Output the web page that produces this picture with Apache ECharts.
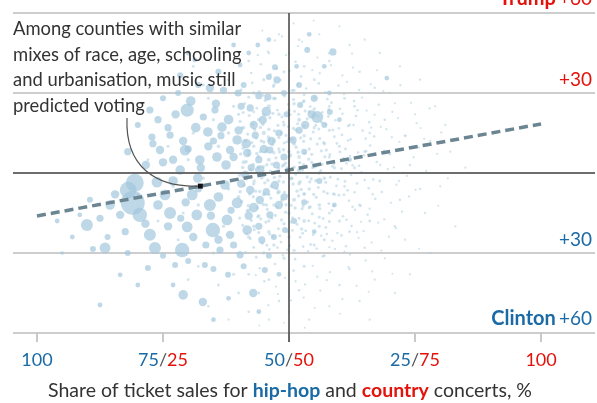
<!DOCTYPE html>
<html>
<head>
<meta charset="utf-8">
<script src="https://cdn.jsdelivr.net/npm/echarts@6/dist/echarts.min.js"></script>
<style>
  html, body { margin: 0; padding: 0; background: #ffffff; }
  #chart { width: 597px; height: 403px; }
</style>
</head>
<body>
<div id="chart"></div>
<script>
// x: country share of concert ticket sales (%), hip-hop share = 100 - x
// y: 2016 vote margin, positive = Trump, negative = Clinton (percentage points)
const xTicks = [0, 25, 50, 75, 100];
const xTickHipHop = ['100', '75', '50', '25', ''];
const xTickCountry = ['', '25', '50', '75', '100'];

const yTicks = [-60, -30, 0, 30, 60];
const yTickNames = ['Clinton', '', '', '', 'Trump'];
const yTickMargins = ['+60', '+30', '', '+30', '+60'];

// fitted relationship, margin at 0% and 100% country share
const trendX = [0, 100];
const trendY = [-16.1, 18.4];

// larger counties: [country share, margin, population index]
const largeCounties = [
  [19.0, -11.2, 400], [19.4, -3.7, 225], [18.1, -6.4, 196], [20.4, -15.7, 144],
  [9.9, -19.5, 100], [13.5, -28.1, 81], [11.1, -28.5, 25], [22.4, -23.2, 100],
  [23.4, -28.1, 100], [28.8, -28.9, 144], [26.4, -15.0, 100], [29.8, -20.2, 81],
  [31.7, -15.7, 81], [34.9, -21.4, 144], [37.7, -17.6, 81], [39.7, -11.2, 81],
  [41.7, -21.4, 64], [29.0, -45.7, 64], [32.9, -48.4, 49], [42.9, -45.0, 49],
  [23.8, -3.4, 81], [25.4, -8.2, 81], [29.8, 23.6, 121], [22.8, 13.5, 36],
  [29.4, 8.6, 81], [33.9, 15.4, 64], [36.7, 17.2, 64], [39.7, 12.4, 64],
  [41.7, 7.5, 49], [44.8, 19.9, 49], [45.8, 28.5, 36], [47.6, 34.9, 36],
  [32.3, 4.9, 64], [28.4, 1.1, 64], [35.7, 6.0, 64], [47.2, 39.7, 25],
  [39.9, 30.0, 36], [34.3, 31.9, 49], [26.4, 14.2, 36], [31.9, -1.9, 64],
  [37.3, -4.5, 64], [41.3, -0.7, 49], [44.2, -10.1, 49], [14.5, -12.0, 64],
  [16.5, -15.7, 49], [21.6, 3.0, 49], [24.4, 8.6, 49], [35.3, 23.6, 36],
  [42.3, 24.4, 36], [38.3, 8.6, 49], [43.3, 14.2, 36], [46.2, 8.6, 36],
  [36.3, -28.9, 36], [40.3, -30.7, 36], [37.9, -38.2, 25], [45.2, -36.4, 25],
  [33.3, -34.5, 25], [27.4, -34.5, 25], [58.7, 45.4, 36], [53.6, 46.1, 25],
  [69.4, 35.6, 16], [55.6, 21.0, 100], [53.2, 18.0, 49], [58.1, 22.9, 25],
  [50.8, 12.4, 36], [52.2, 25.5, 25], [44.2, 1.1, 64], [47.2, -4.5, 49],
  [42.3, -6.4, 49], [46.2, -15.7, 36], [49.2, -21.4, 25], [22.4, 23.6, 36],
  [28.4, 36.7, 25], [31.3, 42.4, 16], [40.3, 40.5, 16], [43.8, 48.0, 16],
  [34.3, -12.0, 100], [30.8, -8.2, 81], [38.3, -23.2, 49], [44.6, -25.1, 36],
  [22.0, -35.6, 25], [12.5, -49.5, 16], [16.5, -38.2, 16], [8.5, -15.7, 16],
  [27.5, 22, 49], [30.5, 27, 64], [33, 21, 36], [35.5, 26, 49], [38, 20, 64], [40.5, 25, 36],
  [43, 18, 49], [45.5, 23, 64], [48, 15, 36], [26, 17, 36], [29, 12, 49], [31.5, 17, 64],
  [34, 10, 49], [36.5, 14, 36], [39, 6, 49], [41.5, 11, 64], [44, 5, 36], [46.5, 12, 49],
  [49, 6, 36], [27, 5, 49], [30, 9, 36], [32.5, 2, 49], [35, 12, 36], [37.5, 3, 64],
  [40, 16, 49], [42.5, 2, 36], [45, 9, 49], [47.5, 3, 36], [49.5, 22, 25], [24, 20, 36],
  [25, 4, 49], [23, 11, 36], [28, 30, 25], [32, 33, 25], [37, 31, 36], [41, 33, 25],
  [44, 29, 36], [46, 36, 25], [49, 30, 25], [36, 38, 25], [42, 45, 16], [39, 48, 16],
  [46, 50, 16], [30, 45, 16], [25, 28, 25], [20, 18, 25], [18, 8, 36],
  [27, -3, 64], [29.5, -11, 49], [32, -6, 36], [34.5, -16, 49], [36, -9, 64], [38.5, -14, 36],
  [40.5, -4, 49], [43, -13, 64], [45.5, -7, 36], [48, -12, 49], [26, -20, 49], [28.5, -17, 36],
  [31, -24, 49], [33.5, -27, 36], [36, -25, 49], [39, -27, 36], [42, -16, 49], [44, -20, 36],
  [47, -24, 25], [49, -9, 36], [24, -12, 64], [21.5, -19, 49], [17.5, -22, 36], [15.5, -8, 49],
  [12.5, -17, 36], [10.5, -10, 25], [25, -31, 25], [30, -33, 25], [35, -36, 25], [41, -35, 25],
  [46, -31, 25], [48, -38, 16], [27, -42, 16], [38, -47, 16], [44, -52, 16], [35, -55, 16],
  [20, -42, 16], [18, -30, 25], [14, -24, 25], [7, -24, 16], [4, -18, 16], [5, -30, 9],
  [52, 16, 36], [54.5, 22, 49], [57, 18, 25], [55, 28, 36], [52, 33, 25], [58, 30, 16],
  [53, 8, 25], [56, -3, 25], [53, -11, 25], [51, -18, 25], [55, -22, 16], [60, 20, 16],
  [59, -12, 16], [62, 5, 16], [51.5, 40, 16], [57, 40, 16], [54, 52, 16]
];

// smaller counties: [country share, margin, population index]
const smallCounties = [
  [44, 2, 9], [46, 5, 12], [48, -3, 8], [50, 8, 10], [52, 1, 14], [54, -6, 9], [47, 12, 11], [49, 18, 8],
  [51, -10, 12], [53, 14, 9], [55, 3, 7], [57, -2, 10], [45, -8, 13], [43, 10, 9], [42, -14, 11], [46, -18, 8],
  [48, 22, 10], [50, -15, 9], [52, 20, 12], [54, 9, 8], [56, -12, 10], [58, 6, 7], [41, 4, 12], [43, -4, 9],
  [45, 15, 14], [47, -12, 8], [49, 3, 10], [51, 26, 9], [53, -18, 11], [55, 17, 8], [57, 11, 9], [59, -8, 7],
  [44, 20, 10], [46, -22, 9], [48, -7, 12], [50, 13, 8], [52, -4, 10], [54, 23, 9], [56, -20, 8], [58, 16, 7],
  [40, -9, 11], [42, 7, 10], [44, -16, 9], [46, 25, 12], [48, 9, 8], [50, -24, 9], [52, 6, 11], [54, -13, 8],
  [56, 0, 10], [58, -15, 7], [41, 17, 9], [43, -20, 10], [45, -1, 8], [47, 28, 11], [49, -19, 9], [51, 11, 12],
  [53, -8, 8], [55, 24, 9], [57, -25, 7], [59, 2, 8], [44.5, 12, 9], [46.5, -5, 10], [48.5, 15, 8], [50.5, -2, 11],
  [52.5, -21, 9], [54.5, 4, 8], [56.5, 19, 7], [42, -24, 10], [47, -27, 9], [51, -29, 8], [55, -27, 7], [49, -32, 8],
  [53, -35, 7], [45, -30, 9], [57, -31, 6], [43, 30, 9], [47, 33, 8], [51, 31, 7], [55, 35, 6], [49, 38, 7],
  [53, 27, 8], [45, 35, 8], [58, 25, 6], [60, 10, 7], [61, -5, 6], [60, -18, 7], [62, 18, 6], [63, 2, 7],
  [64, -12, 6], [62, -22, 6], [65, 8, 6], [61, 28, 6],
  [63, 25, 6], [66, 15, 5], [68, -3, 6], [70, 7, 5], [72, -10, 5], [66, -18, 6], [69, 20, 5], [71, -20, 5],
  [74, 3, 5], [76, -6, 4], [73, 14, 5], [67, 32, 5], [64, 38, 5], [70, 30, 4], [75, 22, 4], [78, 12, 4],
  [65, -28, 5], [69, -32, 4], [73, -25, 4], [77, -15, 4], [67, -40, 4], [62, -36, 5], [71, -45, 4], [64, -48, 4],
  [60, -42, 5], [58, -50, 4], [66, -55, 4], [74, -38, 4], [80, -5, 4], [82, 8, 4], [79, 25, 4], [72, 40, 4],
  [68, 45, 4], [62, 48, 4], [58, 42, 5], [56, 52, 4], [60, 55, 4], [65, 50, 4], [76, 35, 4], [83, -20, 4],
  [78, -30, 4], [85, 2, 4], [81, 18, 4],
  [30, 5, 8], [33, -2, 9], [36, 10, 10], [38, -6, 9], [35, 20, 8], [32, -12, 9], [39, 25, 8], [37, -20, 9],
  [34, 28, 7], [31, 15, 8], [27, -5, 8], [29, -15, 7], [26, 10, 7], [38, 35, 7], [35, -30, 7], [32, -35, 6],
  [36, -42, 6], [39, -38, 7], [40, -45, 6], [34, -50, 5], [30, -40, 6], [28, -25, 7], [24, -18, 7], [22, 5, 7],
  [20, -8, 7], [38, 15, 9], [40, 22, 8], [33, 33, 7], [31, 40, 6], [37, 45, 6], [42, 42, 6], [40, -30, 7],
  [42, -38, 6], [44, -45, 6], [46, -40, 6], [48, -48, 5], [50, -52, 5], [52, -44, 5], [54, -55, 4], [46, -55, 4],
  [42, -52, 5], [38, -55, 4], [50, 45, 5], [52, 50, 5], [48, 52, 4], [53, 40, 6], [46, 45, 5],
  [40.5, 31.2, 6], [42.7, 33.8, 5], [44.1, 30.6, 7], [46.9, 32.4, 6], [48.3, 34.9, 5], [50.6, 30.9, 7], [51.8, 33.1, 6], [53.4, 31.7, 5],
  [55.9, 33.6, 6], [57.2, 30.3, 5], [59.8, 32.8, 5], [61.5, 34.2, 4], [63.9, 31.1, 5], [66.2, 33.3, 4], [68.7, 30.7, 4], [72.1, 32.9, 4],
  [41.2, 26.1, 7], [43.6, 24.3, 6], [45.3, 27.2, 8], [47.7, 23.6, 6], [49.9, 25.8, 7], [51.1, 23.1, 6], [52.8, 26.7, 7], [54.2, 24.9, 6],
  [56.6, 22.8, 5], [58.4, 26.4, 6], [60.1, 24.1, 5], [62.9, 27.0, 5], [65.4, 23.4, 4], [67.8, 25.6, 5], [70.5, 22.9, 4], [74.2, 26.3, 4], [77.9, 24.2, 4],
  [40.3, 19.4, 8], [42.1, 21.6, 7], [44.8, 18.2, 8], [46.2, 20.7, 9], [48.9, 19.1, 7], [50.2, 21.9, 8], [51.7, 18.5, 7], [53.6, 20.3, 8],
  [55.3, 17.9, 6], [57.8, 21.2, 6], [59.2, 19.8, 5], [61.7, 17.6, 5], [63.3, 21.4, 5], [65.9, 19.0, 5], [68.2, 17.3, 4], [71.6, 20.6, 4], [75.3, 18.7, 4],
  [41.8, 14.6, 8], [43.2, 16.3, 9], [45.9, 13.5, 8], [47.1, 15.8, 9], [49.4, 14.1, 8], [50.9, 16.7, 9], [52.3, 13.2, 8], [54.8, 15.4, 7],
  [56.1, 12.9, 7], [58.7, 16.1, 6], [60.5, 14.3, 6], [62.2, 12.6, 5], [64.6, 15.9, 5], [66.9, 13.7, 5], [69.3, 16.4, 4], [73.1, 14.0, 4], [76.8, 12.8, 4], [80.2, 15.2, 4],
  [40.9, 9.3, 9], [42.6, 11.4, 8], [44.3, 8.1, 9], [46.7, 10.6, 8], [48.1, 7.9, 9], [49.7, 11.8, 8], [51.4, 9.7, 9], [53.1, 7.4, 8],
  [55.6, 10.9, 7], [57.4, 8.6, 7], [59.5, 11.1, 6], [61.2, 9.0, 6], [63.7, 7.7, 5], [66.1, 10.3, 5], [68.9, 8.4, 4], [71.9, 11.7, 4], [75.8, 9.6, 4], [79.4, 7.2, 4],
  [41.5, 4.2, 9], [43.9, 6.3, 8], [45.6, 3.1, 9], [47.4, 5.7, 8], [48.7, 2.6, 9], [50.3, 6.8, 8], [52.1, 3.9, 9], [53.9, 5.2, 8],
  [55.2, 2.3, 7], [57.1, 6.1, 7], [58.9, 3.4, 6], [60.8, 5.5, 6], [62.6, 2.9, 5], [64.9, 6.6, 5], [67.4, 4.1, 5], [70.8, 2.1, 4], [74.7, 5.9, 4],
  [40.2, -0.8, 9], [42.4, 1.3, 8], [44.6, -1.9, 9], [46.3, 0.6, 8], [48.2, -1.2, 9], [49.6, 1.9, 8], [51.3, -0.4, 9], [52.7, 1.1, 8],
  [54.4, -2.2, 7], [56.3, 0.9, 7], [58.2, -1.6, 6], [60.4, 1.6, 6], [62.3, -0.7, 5], [64.4, 0.3, 5], [66.7, -2.4, 5], [69.6, 1.4, 4], [73.4, -1.1, 4], [77.2, 0.8, 4], [81.5, -2.0, 4],
  [41.1, -4.6, 9], [43.4, -6.8, 8], [45.2, -3.7, 9], [47.6, -5.9, 8], [49.1, -7.3, 9], [50.8, -4.1, 8], [52.4, -6.2, 9], [54.1, -3.3, 8],
  [55.8, -5.4, 7], [57.6, -7.6, 7], [59.4, -4.8, 6], [61.6, -6.5, 6], [63.5, -3.9, 5], [65.8, -5.7, 5], [68.4, -7.1, 5], [71.3, -4.4, 4], [75.1, -6.3, 4],
  [40.6, -10.7, 9], [42.9, -8.9, 8], [44.9, -11.8, 9], [46.4, -9.4, 8], [48.6, -10.2, 9], [50.4, -12.1, 8], [51.9, -8.6, 8], [53.7, -10.9, 7],
  [55.4, -9.1, 7], [57.9, -11.5, 6], [59.9, -8.3, 6], [61.9, -10.4, 5], [64.2, -12.3, 5], [67.1, -9.7, 5], [70.2, -11.2, 4], [73.8, -8.8, 4],
  [41.7, -14.2, 8], [43.8, -16.4, 8], [45.7, -13.6, 8], [47.3, -15.9, 8], [49.3, -14.7, 8], [50.7, -16.8, 7], [52.6, -13.4, 7], [54.6, -15.3, 7],
  [56.8, -17.1, 6], [58.5, -14.0, 6], [60.7, -16.2, 5], [63.1, -13.8, 5], [65.6, -15.6, 5], [68.9, -17.4, 4], [72.4, -14.5, 4],
  [40.8, -19.6, 8], [43.1, -21.3, 7], [45.4, -18.4, 8], [47.9, -20.9, 7], [49.8, -22.1, 7], [51.6, -19.2, 7], [53.3, -21.7, 6], [55.1, -18.8, 6],
  [57.3, -20.4, 6], [59.6, -22.5, 5], [62.4, -19.9, 5], [64.8, -21.8, 4], [67.7, -18.6, 4], [71.2, -20.7, 4],
  [42.3, -24.6, 7], [44.7, -26.3, 7], [46.8, -23.8, 7], [48.4, -25.9, 6], [50.1, -27.2, 6], [52.2, -24.1, 6], [54.3, -26.8, 6], [56.4, -23.5, 5],
  [58.6, -25.4, 5], [61.3, -27.5, 5], [63.8, -24.3, 4], [66.4, -26.1, 4], [69.8, -23.9, 4],
  [41.4, -29.8, 6], [43.5, -31.6, 6], [46.1, -28.7, 6], [48.8, -30.9, 5], [51.2, -32.3, 5], [53.8, -29.4, 5], [56.7, -31.2, 5], [59.1, -28.5, 4],
  [62.1, -30.6, 4], [65.2, -32.8, 4], [68.3, -29.1, 4],
  [44.2, -35.7, 5], [47.2, -34.1, 5], [50.9, -36.6, 5], [54.7, -34.8, 4], [58.1, -37.2, 4], [61.8, -35.3, 4], [66.5, -36.9, 4],
  [45.1, -40.6, 5], [49.2, -39.3, 4], [53.2, -41.8, 4], [57.5, -40.2, 4], [63.4, -42.3, 4],
  [47.8, -45.4, 4], [52.9, -46.7, 4], [56.2, -44.1, 4], [60.6, -47.3, 4],
  [44.4, 40.8, 5], [47.6, 39.2, 5], [51.3, 41.7, 5], [54.6, 38.6, 4], [58.3, 40.4, 4], [62.7, 39.5, 4],
  [45.8, 45.6, 4], [49.4, 44.2, 4], [53.7, 46.8, 4], [57.9, 44.9, 4],
  [48.6, 51.2, 4], [52.6, 49.3, 4],
  [42.0, 28.4, 6], [44.9, 29.1, 6], [47.3, 27.9, 7], [49.1, 28.8, 6], [50.9, 27.6, 7], [53.0, 29.3, 6], [55.1, 28.2, 5], [57.6, 27.7, 5], [60.9, 29.6, 4], [64.5, 28.3, 4],
  [40.9, 22.7, 7], [43.0, 23.0, 7], [45.0, 21.9, 8], [46.8, 22.4, 8], [48.6, 21.1, 7], [50.0, 23.5, 8], [51.9, 22.0, 7], [53.2, 23.3, 7], [55.7, 21.4, 6], [57.9, 23.8, 6], [60.6, 22.2, 5], [63.6, 23.5, 5], [67.0, 21.8, 4],
  [40.7, 16.9, 8], [42.8, 18.3, 8], [44.3, 17.1, 8], [46.0, 16.4, 9], [47.8, 17.9, 8], [49.9, 17.4, 8], [51.4, 16.1, 8], [53.0, 17.6, 8], [55.9, 16.5, 7], [57.3, 18.2, 6], [59.9, 16.8, 5], [62.8, 18.0, 5], [66.3, 17.0, 4],
  [41.3, 12.0, 9], [43.5, 13.1, 8], [45.0, 11.6, 9], [46.1, 12.4, 9], [48.0, 13.3, 8], [49.1, 11.3, 9], [50.6, 12.7, 9], [52.9, 11.9, 8], [54.3, 12.8, 8], [56.9, 11.4, 7], [59.0, 13.6, 6], [61.7, 12.2, 5], [65.2, 12.9, 5], [70.4, 13.4, 4],
  [40.4, 7.1, 9], [42.0, 8.4, 9], [43.6, 7.3, 9], [45.4, 8.0, 9], [47.0, 7.6, 9], [48.9, 8.7, 9], [50.1, 6.2, 9], [51.8, 7.8, 9], [54.5, 7.0, 8], [56.4, 8.3, 7], [58.1, 6.9, 6], [60.1, 7.9, 6], [62.1, 6.4, 5], [65.3, 8.2, 5], [69.0, 7.4, 4],
  [40.8, 2.1, 9], [42.9, 3.2, 9], [44.9, 2.4, 9], [46.6, 3.4, 9], [47.9, 1.8, 9], [49.3, 3.7, 9], [51.0, 2.2, 9], [52.9, 3.1, 9], [54.7, 2.0, 8], [56.6, 3.3, 7], [58.6, 2.5, 6], [61.4, 3.6, 5], [63.9, 2.7, 5], [68.1, 3.0, 4],
  [41.6, -2.2, 9], [43.1, -3.0, 9], [45.8, -2.7, 9], [47.1, -1.7, 9], [48.9, -3.4, 9], [50.5, -2.1, 9], [52.2, -3.3, 9], [53.6, -1.5, 8], [55.3, -2.9, 8], [57.3, -3.5, 7], [59.7, -2.3, 6], [61.1, -3.2, 6], [65.0, -2.6, 5], [71.8, -3.0, 4],
  [40.3, -7.0, 9], [42.2, -7.9, 9], [44.2, -6.9, 9], [46.0, -8.1, 9], [47.8, -7.4, 9], [49.8, -8.4, 9], [51.6, -6.8, 9], [53.0, -7.7, 8], [54.9, -8.0, 8], [56.9, -6.9, 7], [58.8, -7.8, 6], [60.9, -8.2, 6], [63.0, -7.2, 5], [66.6, -8.0, 5],
  [41.9, -12.3, 9], [43.7, -13.0, 9], [45.5, -12.0, 9], [47.6, -12.8, 9], [49.4, -11.9, 9], [51.2, -13.1, 9], [52.8, -12.4, 8], [54.2, -12.7, 8], [56.1, -13.3, 7], [58.9, -12.2, 6], [62.6, -12.7, 5], [66.0, -13.4, 4],
  [40.2, -16.9, 8], [42.5, -17.8, 8], [44.4, -17.2, 8], [46.6, -16.9, 8], [48.5, -17.6, 8], [50.3, -18.4, 7], [52.0, -17.0, 7], [53.9, -17.9, 7], [56.0, -16.6, 6], [58.0, -18.2, 6], [61.4, -17.5, 5], [64.3, -18.3, 4],
  [41.6, -22.8, 7], [44.0, -22.3, 7], [46.2, -22.9, 7], [48.2, -23.5, 7], [50.7, -21.5, 6], [52.7, -22.6, 6], [54.8, -23.2, 6], [57.5, -22.9, 5], [60.4, -23.4, 5], [63.5, -22.2, 4],
  [43.0, -27.9, 6], [45.6, -27.1, 6], [47.7, -28.0, 6], [49.7, -28.8, 6], [52.8, -27.6, 5], [55.5, -28.3, 5], [58.0, -27.8, 4], [61.0, -29.5, 4],
  [42.5, 37.5, 5], [46.3, 36.9, 5], [50.1, 38.3, 5], [52.4, 36.2, 5], [56.1, 37.4, 4], [60.6, 36.6, 4], [43.8, 44.2, 4], [51.8, 47.6, 4],
  [55.6, 43.3, 4], [47.2, 49.7, 4], [50.9, 56.1, 4], [44.7, 53.4, 4], [54.9, 57.2, 3], [62.5, 44.8, 4], [67.4, 38.5, 3], [71.0, 26.2, 3], [76.1, 16.9, 3],
  [43.4, -38.3, 4], [47.4, -42.6, 4], [51.3, -40.6, 4], [55.6, -38.9, 4], [45.9, -49.6, 4], [50.4, -47.8, 4], [55.1, -50.5, 3], [49.0, -56.2, 3],
  [53.1, -58.0, 3], [44.1, -57.2, 3], [60.1, -52.8, 3], [65.8, -44.5, 3], [70.5, -37.8, 3], [75.8, -28.4, 3], [79.6, -12.3, 3]
];

const BLUE = '#1a6aa6';
const RED = '#e3120b';
const INK = '#333333';
const RULE = '#4d4d4d';
const FONT = 'Lato, "Open Sans", sans-serif';

const chart = echarts.init(document.getElementById('chart'), null, { renderer: 'canvas' });

function largeSize(d) { return Math.sqrt(d[2]) * 1.2; }
function smallSize(d) { return Math.sqrt(d[2]) * 1.15; }

const option = {
  animation: false,
  backgroundColor: '#ffffff',
  textStyle: { fontFamily: FONT },
  grid: { left: 13, right: 2, top: 13, bottom: 70, containLabel: false, outerBoundsMode: 'none' },
  xAxis: {
    type: 'value',
    min: -4.76,
    max: 110.7,
    splitLine: { show: false },
    axisLine: { show: false, onZero: false },
    axisTick: {
      show: true, customValues: xTicks, length: 9, inside: false,
      lineStyle: { color: '#c8c8c8', width: 2 }
    },
    axisLabel: {
      customValues: xTicks,
      margin: 18,
      formatter: function (v) {
        const i = xTicks.indexOf(v);
        const h = xTickHipHop[i], c = xTickCountry[i];
        if (h && c) return '{b|' + h + '}{s|/}{r|' + c + '}';
        if (h) return '{b|' + h + '}';
        return '{r|' + c + '}';
      },
      rich: {
        b: { color: BLUE, fontSize: 18, fontFamily: FONT },
        r: { color: RED, fontSize: 18, fontFamily: FONT },
        s: { color: '#555555', fontSize: 18, fontFamily: FONT }
      }
    }
  },
  yAxis: {
    type: 'value',
    min: -60,
    max: 60,
    interval: 30,
    position: 'right',
    axisLine: { show: false },
    axisTick: { show: false },
    splitLine: {
      show: true, showMinLine: true, showMaxLine: true,
      lineStyle: { color: '#cdcdcd', width: 1.8 }
    },
    axisLabel: {
      inside: true,
      margin: 3,
      verticalAlign: 'bottom',
      padding: [0, 0, 4, 0],
      formatter: function (v) {
        const i = yTicks.indexOf(v);
        const name = yTickNames[i], m = yTickMargins[i];
        if (!m) return '';
        const style = v > 0 ? 'r' : 'b';
        return (name ? '{' + style + 'n|' + name + '} ' : '') + '{' + style + '|' + m + '}';
      },
      rich: {
        r: { color: RED, fontSize: 19, fontFamily: FONT },
        rn: { color: RED, fontSize: 20, fontFamily: FONT, fontWeight: 'bold' },
        b: { color: BLUE, fontSize: 19, fontFamily: FONT },
        bn: { color: BLUE, fontSize: 20, fontFamily: FONT, fontWeight: 'bold' }
      }
    }
  },
  series: [
    {
      name: 'small',
      type: 'scatter',
      data: smallCounties,
      symbolSize: smallSize,
      itemStyle: { color: '#a6cbe0', opacity: 0.5 },
      silent: true,
      z: 2
    },
    {
      name: 'large',
      type: 'scatter',
      data: largeCounties,
      symbolSize: largeSize,
      itemStyle: { color: '#a3c8dd', opacity: 0.7 },
      silent: true,
      z: 2
    },
    {
      name: 'trend',
      type: 'line',
      data: trendX.map((x, i) => [x, trendY[i]]),
      showSymbol: false,
      symbol: 'none',
      lineStyle: { color: '#6b8592', width: 3.5, type: [9, 5] },
      silent: true,
      z: 4,
      markLine: {
        silent: true,
        symbol: 'none',
        label: { show: false },
        animation: false,
        lineStyle: { color: RULE, width: 1.6, type: 'solid' },
        data: [
          { yAxis: 0 },
          { xAxis: 50 }
        ]
      }
    }
  ]
};

chart.setOption(option);

// the 50/50 rule continues through the tick row below the plot
const midTop = chart.convertToPixel({ gridIndex: 0 }, [50, -60]);
const midBottom = chart.convertToPixel({ gridIndex: 0 }, [50, -63.4]);

// annotation pointer from the note to the fitted line
const pStart = [127, 118];
const pEnd = chart.convertToPixel({ gridIndex: 0 }, [32.4, -16.1 + 34.5 * 0.324]);

chart.setOption({
  graphic: [
    {
      type: 'line',
      silent: true,
      shape: { x1: midTop[0], y1: midTop[1], x2: midBottom[0], y2: midBottom[1] },
      style: { stroke: RULE, lineWidth: 1.6 },
      z: 10
    },
    {
      type: 'text',
      left: 13,
      top: 16,
      silent: true,
      style: {
        text: 'Among counties with similar\nmixes of race, age, schooling\nand urbanisation, music still\npredicted voting',
        fill: INK,
        font: '18.4px ' + FONT,
        lineHeight: 25.8
      },
      z: 10
    },
    {
      type: 'bezierCurve',
      silent: true,
      shape: {
        x1: pStart[0], y1: pStart[1],
        cpx1: pStart[0] - 2, cpy1: pStart[1] + 48,
        cpx2: pStart[0] + 28, cpy2: pEnd[1] + 2,
        x2: pEnd[0], y2: pEnd[1]
      },
      style: { stroke: '#555555', lineWidth: 1.2, fill: null },
      z: 10
    },
    {
      type: 'rect',
      silent: true,
      shape: { x: pEnd[0] - 2.5, y: pEnd[1] - 2.5, width: 5, height: 5 },
      style: { fill: '#111111' },
      z: 11
    },
    {
      type: 'text',
      silent: true,
      x: 290,
      y: 391,
      style: {
        text: 'Share of ticket sales for {b|hip-hop} and {r|country} concerts, %',
        fill: INK,
        font: '19.5px ' + FONT,
        align: 'center',
        verticalAlign: 'middle',
        rich: {
          b: { fill: BLUE, font: 'bold 19.5px ' + FONT },
          r: { fill: RED, font: 'bold 19.5px ' + FONT }
        }
      },
      z: 10
    }
  ]
});
</script>
</body>
</html>
